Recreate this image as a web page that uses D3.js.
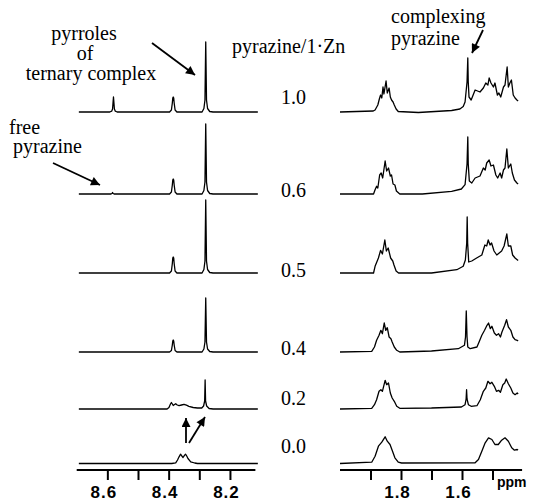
<!DOCTYPE html>
<html>
<head>
<meta charset="utf-8">
<script src="https://cdn.jsdelivr.net/npm/d3@7"></script>
<style>
  body { margin: 0; background: #fff; }
  svg { display: block; }
</style>
</head>
<body>
<script>
// pyrazine / 1·Zn ratios, one spectrum row each
const ratios = ["1.0", "0.6", "0.5", "0.4", "0.2", "0.0"];

// aromatic region traces [ppm, intensity]
const arom10 = [[8.693,0],[8.592,0],[8.586,0.8],[8.583,3],[8.5815,9],[8.580,15],[8.5785,9],[8.577,3],[8.574,0.8],[8.568,0],
  [8.397,0],[8.391,2],[8.388,9],[8.3865,14],[8.385,15],[8.3835,14],[8.382,9],[8.379,2],[8.373,0],
  [8.291,0],[8.285,3.5],[8.2815,12],[8.279,70],[8.2765,12],[8.273,3.5],[8.266,0.5],[8.255,0],[8.109,0]];
const arom06 = [[8.693,0],[8.588,0],[8.585,0.5],[8.583,1.5],[8.581,0.5],[8.578,0],
  [8.397,0],[8.391,2],[8.388,9],[8.3865,14],[8.385,15],[8.3835,14],[8.382,9],[8.379,2],[8.373,0],
  [8.291,0],[8.285,3.5],[8.2815,12],[8.279,70],[8.2765,12],[8.273,3.5],[8.266,0.5],[8.255,0],[8.109,0]];
const arom05 = [[8.693,0],[8.397,0],[8.391,2],[8.388,9.5],[8.3865,15],[8.385,16],[8.3835,15],[8.382,9.5],[8.379,2],[8.373,0],
  [8.291,0],[8.285,3.5],[8.2815,12],[8.279,73],[8.2765,12],[8.273,3.5],[8.266,0.5],[8.255,0],[8.109,0]];
const arom04 = [[8.693,0],[8.397,0],[8.391,1.5],[8.388,7],[8.3865,11],[8.385,12],[8.3835,11],[8.382,7],[8.379,1.5],[8.373,0],
  [8.291,0],[8.285,3],[8.2815,10],[8.279,54],[8.2765,10],[8.273,3],[8.266,0.5],[8.255,0],[8.109,0]];
const arom02 = [[8.693,0],[8.405,0],[8.399,1.5],[8.394,5],[8.391,6.5],[8.388,5],[8.385,3.5],[8.381,4.5],[8.377,5.3],[8.372,4],
  [8.366,3.3],[8.358,4],[8.350,4.7],[8.342,3.8],[8.334,2.7],[8.320,1.5],[8.306,1],[8.292,1],[8.286,3],[8.2825,8],
  [8.281,29],[8.2795,8],[8.276,3],[8.268,0.5],[8.255,0],[8.109,0]];
const arom00 = [[8.693,0],[8.390,0],[8.377,0.7],[8.371,3.5],[8.366,6.7],[8.361,9.3],[8.357,7.5],[8.353,6],[8.349,7.8],
  [8.345,9.3],[8.341,7.5],[8.337,5],[8.328,1.7],[8.315,0.5],[8.306,0],[8.109,0]];

// aliphatic region traces [ppm, intensity]
const alkyl10 = [[2.0,0],[1.891,1],[1.885,2],[1.876,7],[1.871,13],[1.867,17],[1.863,14],[1.859,25],[1.856,18],[1.849,31],
  [1.845,19],[1.839,24],[1.835,15],[1.831,12],[1.826,10],[1.822,7],[1.816,3],[1.809,0.5],[1.743,-0.5],[1.634,1.5],
  [1.607,3],[1.596,5.5],[1.590,10],[1.5835,30],[1.581,54],[1.5795,30],[1.577,15],[1.570,12],[1.557,22],[1.541,20],
  [1.530,24],[1.522,29],[1.515,27],[1.511,34],[1.505,29],[1.497,25],[1.492,29],[1.484,17],[1.479,19],[1.473,15],
  [1.464,25],[1.459,27],[1.452,45],[1.448,25],[1.443,29],[1.438,32],[1.432,17],[1.426,14],[1.420,12],[1.416,11]];
const alkyl06 = [[2.0,0],[1.890,0],[1.885,4.3],[1.880,7.7],[1.876,6],[1.870,19],[1.865,21],[1.860,16],[1.852,33],[1.847,23],
  [1.841,26],[1.835,18],[1.831,19],[1.826,10],[1.820,9],[1.815,3],[1.804,0],[1.730,0],[1.634,2.7],[1.602,5],[1.590,9.3],
  [1.5835,30],[1.581,57],[1.5795,30],[1.576,13],[1.568,11],[1.557,16],[1.541,18],[1.530,26],[1.524,24],[1.519,31],
  [1.511,34],[1.505,28],[1.497,29],[1.489,19],[1.483,16],[1.475,21],[1.470,16],[1.464,24],[1.459,26],[1.453,45],
  [1.448,26],[1.440,30],[1.435,21],[1.428,14],[1.420,11],[1.416,10]];
const alkyl05 = [[2.0,0],[1.890,0],[1.885,6.7],[1.874,15],[1.867,22.7],[1.861,19],[1.853,33],[1.848,22],[1.842,25],[1.834,15],
  [1.827,12],[1.823,8],[1.816,2],[1.808,0],[1.700,0],[1.617,3.3],[1.596,6.7],[1.589,13],[1.5845,30],[1.583,56],
  [1.5815,30],[1.578,11],[1.568,12],[1.552,15],[1.535,18],[1.525,28],[1.519,27],[1.514,33],[1.508,28],[1.503,30],
  [1.495,22],[1.486,18],[1.478,20],[1.470,22],[1.462,27],[1.453,39],[1.448,27],[1.440,27],[1.434,18],[1.426,15],
  [1.418,13],[1.416,12.5]];
const alkyl04 = [[2.0,0],[1.896,0.7],[1.887,5],[1.880,11.7],[1.872,16.7],[1.866,21.7],[1.861,18.3],[1.855,29],[1.850,21.7],
  [1.845,24.3],[1.839,15],[1.833,13.3],[1.829,10],[1.822,5],[1.814,1.7],[1.804,0],[1.700,1],[1.612,3.3],[1.592,6.7],
  [1.5885,15],[1.586,41],[1.5835,15],[1.581,5],[1.573,3.3],[1.551,5],[1.544,10],[1.535,16.7],[1.526,21.7],[1.518,26.7],
  [1.513,29],[1.507,23.3],[1.502,25.7],[1.494,19],[1.487,16.7],[1.480,18.3],[1.474,15],[1.469,20],[1.460,26.7],
  [1.454,32.3],[1.448,25],[1.440,21.7],[1.433,15],[1.426,12.3],[1.419,11.7],[1.416,11]];
const alkyl02 = [[2.0,0],[1.896,0.7],[1.887,4.3],[1.880,9.3],[1.872,17.7],[1.866,19.3],[1.861,17.7],[1.852,28.7],[1.847,24.3],
  [1.841,26],[1.835,16],[1.829,11],[1.822,7.7],[1.814,2.7],[1.804,0.7],[1.700,1],[1.602,2],[1.590,4.3],[1.5865,10],
  [1.585,19.3],[1.5835,10],[1.579,4.3],[1.570,2.7],[1.551,3.3],[1.540,9.3],[1.530,17.7],[1.522,21],[1.515,27.7],
  [1.508,25.3],[1.502,26.7],[1.494,22.7],[1.487,17.7],[1.480,18.7],[1.474,16.7],[1.466,24.3],[1.460,26],[1.455,30],
  [1.448,25.3],[1.440,21],[1.433,16],[1.426,14.3],[1.419,16],[1.416,15]];
const alkyl00 = [[2.0,0],[1.896,1.3],[1.885,7.3],[1.874,17.3],[1.863,21.3],[1.852,26.7],[1.845,22.3],[1.836,19],[1.829,13.3],
  [1.820,5.7],[1.809,1.3],[1.798,0.5],[1.557,0.7],[1.546,4],[1.535,12.3],[1.524,20.7],[1.513,25.7],[1.502,24],[1.492,19],
  [1.481,19],[1.470,23.3],[1.459,25.7],[1.448,22.3],[1.437,15.7],[1.428,13.3],[1.419,14],[1.416,13.5]];

const aromatic = [arom10, arom06, arom05, arom04, arom02, arom00];
const aliphatic = [alkyl10, alkyl06, alkyl05, alkyl04, alkyl02, alkyl00];

// ticks
const leftTicks = [8.6, 8.5, 8.4, 8.3, 8.2];
const leftLabels = [8.6, 8.4, 8.2];
const rightTicks = [1.9, 1.8, 1.7, 1.6, 1.5];
const rightLabels = [1.8, 1.6];

// layout
var svg_width = 536;
var svg_height = 501;
var axis_y = 470;
var row_base = [112, 194, 273, 352, 409, 463.5];
var label_base = [104, 197, 277, 355, 405, 453];
var serif = '"Liberation Serif", "DejaVu Serif", "Times New Roman", Times, serif';
var sans = '"Liberation Sans", Arial, Helvetica, sans-serif';

const svg = d3.select('body')
    .append('svg')
    .attr("width", svg_width)
    .attr("height", svg_height);

// arrow head
svg.append('defs').append('marker')
    .attr('id', 'head')
    .attr('markerUnits', 'userSpaceOnUse')
    .attr('viewBox', '0 0 10 10')
    .attr('refX', 10).attr('refY', 5)
    .attr('markerWidth', 11).attr('markerHeight', 9)
    .attr('orient', 'auto')
    .append('path')
    .attr('d', 'M0,0 L10,5 L0,10 Z')
    .attr('fill', '#000');

// ppm scales (reversed, as usual for NMR)
const xL = d3.scaleLinear().domain([8.7, 8.1]).range([76.7, 260.6]);
const xR = d3.scaleLinear().domain([2.0, 1.4]).range([340, 523]);
const y = d3.scaleLinear().domain([0, 100]).range([0, -100]);

function drawTraces(traces, x) {
    const line = d3.line()
        .x(d => x(d[0]))
        .y(d => y(d[1]));
    svg.append('g').selectAll('path')
        .data(traces)
        .enter().append('path')
        .attr('transform', (d, i) => `translate(0,${row_base[i]})`)
        .attr('d', line)
        .attr('fill', 'none')
        .attr('stroke', '#000')
        .attr('stroke-width', 1.3)
        .attr('stroke-linejoin', 'round');
}
drawTraces(aromatic, xL);
drawTraces(aliphatic, xR);

// axes
function drawAxis(x, ticks, labels, ends) {
    const g = svg.append('g')
        .attr('transform', `translate(0,${axis_y})`)
        .call(d3.axisBottom(x)
            .tickValues(ticks)
            .tickSize(10)
            .tickPadding(6)
            .tickFormat(d => labels.includes(d) ? d3.format('.1f')(d) : ''));
    g.select('.domain').remove();
    g.selectAll('.tick line').attr('stroke', '#000').attr('stroke-width', 2);
    g.selectAll('.tick text')
        .attr('dx', -4)
        .attr('fill', '#000')
        .attr('font-family', sans)
        .attr('font-weight', 'bold')
        .attr('font-size', 17)
        .attr('letter-spacing', 1);
    g.append('line')
        .attr('x1', x(ends[0])).attr('x2', x(ends[1]))
        .attr('stroke', '#000').attr('stroke-width', 2.2);
    return g;
}
drawAxis(xL, leftTicks, leftLabels, [8.7, 8.117]);
drawAxis(xR, rightTicks, rightLabels, [2.0, 1.403]);

svg.append('text')
    .attr('x', 497).attr('y', 487)
    .attr('font-family', sans)
    .attr('font-weight', 'bold')
    .attr('font-size', 14)
    .text('ppm');

// ratio labels
svg.append('g').selectAll('text')
    .data(ratios)
    .enter().append('text')
    .attr('font-family', serif)
    .attr('font-size', 20)
    .attr('x', 281)
    .attr('y', (d, i) => label_base[i])
    .text(d => d);

// annotations
function note(str, x, yy, anchor) {
    svg.append('text')
        .attr('font-family', serif)
        .attr('font-size', 20)
        .attr('x', x).attr('y', yy)
        .attr('text-anchor', anchor || 'start')
        .text(str);
}
note('pyrroles', 84, 40, 'middle');
note('of', 85, 60, 'middle');
note('ternary complex', 91, 80, 'middle');
note('free', 9, 134);
note('pyrazine', 13, 153);
note('pyrazine/1\u00b7Zn', 232, 53);
note('complexing', 391, 23);
note('pyrazine', 391, 45);

function arrow(x1, y1, x2, y2) {
    svg.append('line')
        .attr('x1', x1).attr('y1', y1)
        .attr('x2', x2).attr('y2', y2)
        .attr('stroke', '#000')
        .attr('stroke-width', 1.8)
        .attr('marker-end', 'url(#head)');
}
arrow(152, 43, 195, 75);
arrow(53, 163, 100, 185);
arrow(483, 30, 472, 53);
arrow(186, 443, 186, 418);
arrow(189, 443, 205, 417);
</script>
</body>
</html>
